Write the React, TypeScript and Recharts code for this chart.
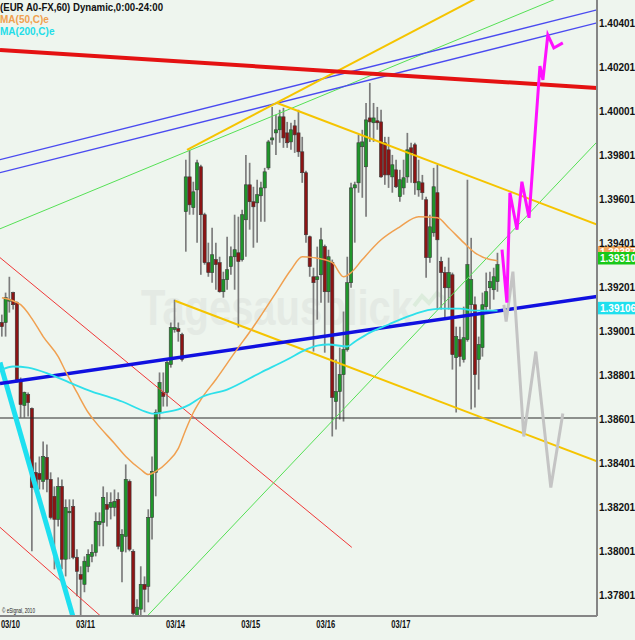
import { ComposedChart, Bar, Line, XAxis, YAxis, ReferenceLine } from "recharts";

const FONT = '"Liberation Sans", Arial, sans-serif';

// EUR A0-FX, 60 min candles (index 0 = first bar of 03/10)
const openPrices = [
  1.39044, 1.39044, 1.39143, 1.3918, 1.39134, 1.38785, 1.38667, 1.38717, 1.38653, 1.38363,
  1.38358, 1.38322, 1.38431, 1.38331, 1.38254, 1.38149, 1.38299, 1.37968, 1.38181, 1.38208,
  1.37977, 1.37899, 1.37854, 1.37936, 1.37981, 1.37999, 1.38126, 1.38136, 1.38217, 1.38204,
  1.38204, 1.3824, 1.38004, 1.38072, 1.38322, 1.38004, 1.37713, 1.37741, 1.37854, 1.37845,
  1.38158, 1.38363, 1.38635, 1.38726, 1.38726, 1.38853, 1.39012, 1.39016, 1.38989, 1.39548,
  1.39706, 1.39566, 1.39647, 1.39752, 1.39534, 1.39316, 1.39271, 1.3933, 1.39316, 1.39184,
  1.39239, 1.39298, 1.39343, 1.39361, 1.3933, 1.39511, 1.3967, 1.39593, 1.39588, 1.3962,
  1.39656, 1.39747, 1.39874, 1.39906, 1.3992, 1.39979, 1.39906, 1.39865, 1.39938, 1.39906,
  1.3982, 1.39725, 1.39434, 1.39252, 1.39239, 1.39261, 1.39389, 1.39184, 1.39316, 1.38685,
  1.3873, 1.38807, 1.38921, 1.39225, 1.39656, 1.39679, 1.39843, 1.39752, 1.39974, 1.39952,
  1.39961, 1.39956, 1.39861, 1.39829, 1.39706, 1.39738, 1.39616, 1.39656, 1.39706, 1.39838,
  1.39852, 1.39647, 1.39679, 1.39602, 1.39339, 1.39452, 1.39634, 1.39321, 1.39271, 1.39202,
  1.39261, 1.38885, 1.38966, 1.38876, 1.38966, 1.39125, 1.39125, 1.38876, 1.3893, 1.39116,
  1.39202, 1.39193, 1.3923,
];

const highPrices = [
  1.3908, 1.3918, 1.39252, 1.39184, 1.39139, 1.38794, 1.3873, 1.38726, 1.38658, 1.38408,
  1.38435, 1.38503, 1.3849, 1.38363, 1.38299, 1.3834, 1.38331, 1.3824, 1.3824, 1.3824,
  1.38013, 1.37936, 1.37981, 1.38013, 1.38036, 1.38181, 1.38181, 1.38299, 1.38272, 1.38272,
  1.38285, 1.38272, 1.38104, 1.38399, 1.38331, 1.38013, 1.37786, 1.37936, 1.3789, 1.38195,
  1.38435, 1.38649, 1.38817, 1.38817, 1.38876, 1.39044, 1.39148, 1.39044, 1.38998, 1.39784,
  1.39829, 1.39684, 1.39784, 1.39761, 1.39543, 1.39407, 1.39475, 1.39407, 1.39343, 1.39275,
  1.39434, 1.39389, 1.39534, 1.39525, 1.39557, 1.39806, 1.3977, 1.39661, 1.39693, 1.39684,
  1.39747, 1.39874, 1.40024, 1.39988, 1.40011, 1.4002, 1.39956, 1.39952, 1.39965, 1.40011,
  1.39888, 1.39734, 1.39439, 1.39293, 1.39389, 1.39475, 1.39398, 1.39375, 1.3933, 1.38876,
  1.3893, 1.39094, 1.39343, 1.39679, 1.39684, 1.39897, 1.3992, 1.40042, 1.40133, 1.40042,
  1.40024, 1.40011, 1.39888, 1.39888, 1.39806, 1.39784, 1.39738, 1.39784, 1.39906, 1.39861,
  1.39861, 1.39784, 1.39715, 1.39616, 1.39534, 1.39747, 1.39761, 1.39343, 1.39298, 1.39339,
  1.39271, 1.39025, 1.39025, 1.39116, 1.39693, 1.39429, 1.39162, 1.3898, 1.3918, 1.39271,
  1.39275, 1.39293, 1.39361,
];

const lowPrices = [
  1.3898, 1.3898, 1.39089, 1.39103, 1.38771, 1.38612, 1.38612, 1.38617, 1.38004, 1.38272,
  1.38285, 1.38285, 1.38272, 1.38149, 1.37922, 1.38117, 1.37922, 1.3789, 1.37968, 1.37968,
  1.378, 1.37713, 1.37818, 1.37909, 1.37954, 1.37981, 1.38027, 1.38027, 1.38117, 1.38149,
  1.38163, 1.38013, 1.37863, 1.37999, 1.38004, 1.37713, 1.37713, 1.37713, 1.37727, 1.37772,
  1.38058, 1.38254, 1.38603, 1.38662, 1.38662, 1.38839, 1.38998, 1.38957, 1.38867, 1.39366,
  1.39534, 1.39534, 1.39407, 1.39261, 1.39307, 1.39252, 1.39225, 1.39193, 1.3918, 1.39157,
  1.39193, 1.39261, 1.39193, 1.39021, 1.39321, 1.39343, 1.39466, 1.39384, 1.39407, 1.39502,
  1.39502, 1.39738, 1.39852, 1.39806, 1.39861, 1.39838, 1.39838, 1.39829, 1.39815, 1.39797,
  1.39679, 1.39407, 1.39252, 1.38912, 1.39057, 1.39134, 1.38907, 1.39134, 1.38526, 1.38558,
  1.38603, 1.38594, 1.38912, 1.39202, 1.39407, 1.39634, 1.39611, 1.39525, 1.39865, 1.39865,
  1.3992, 1.39702, 1.3967, 1.39656, 1.39634, 1.39656, 1.39593, 1.39625, 1.39679, 1.39679,
  1.39625, 1.39616, 1.39602, 1.39248, 1.39316, 1.39434, 1.39103, 1.39103, 1.39057, 1.39103,
  1.3883, 1.38635, 1.38844, 1.38862, 1.38957, 1.38649, 1.38658, 1.38739, 1.38889, 1.39094,
  1.39103, 1.39148, 1.39184,
];

const closePrices = [
  1.39025, 1.39157, 1.39148, 1.39125, 1.38776, 1.38671, 1.38726, 1.3868, 1.38294, 1.38285,
  1.38331, 1.38435, 1.38331, 1.38158, 1.38149, 1.38299, 1.37968, 1.38204, 1.38186, 1.37977,
  1.37913, 1.37877, 1.37959, 1.3799, 1.37999, 1.3814, 1.3814, 1.38249, 1.38195, 1.38226,
  1.38231, 1.38027, 1.38081, 1.38331, 1.38013, 1.37722, 1.3775, 1.37854, 1.37831, 1.38158,
  1.38367, 1.38635, 1.38771, 1.38708, 1.38862, 1.39021, 1.39021, 1.39003, 1.38876, 1.39706,
  1.39579, 1.39638, 1.3977, 1.39534, 1.39316, 1.39271, 1.39352, 1.39307, 1.39184, 1.39239,
  1.39284, 1.39343, 1.39375, 1.39321, 1.39534, 1.3967, 1.39593, 1.3957, 1.39625, 1.39656,
  1.39729, 1.39865, 1.39883, 1.3992, 1.39979, 1.39883, 1.39861, 1.3992, 1.39897, 1.3982,
  1.39725, 1.39443, 1.39298, 1.39225, 1.39252, 1.3942, 1.39184, 1.39343, 1.38703, 1.3873,
  1.38807, 1.38921, 1.39225, 1.39656, 1.3967, 1.39861, 1.39865, 1.39965, 1.39956, 1.39974,
  1.39952, 1.39706, 1.39715, 1.39715, 1.39761, 1.39661, 1.39693, 1.39702, 1.39829, 1.39815,
  1.39679, 1.39684, 1.39634, 1.39339, 1.39479, 1.39661, 1.3942, 1.39271, 1.39202, 1.39271,
  1.38898, 1.3898, 1.38889, 1.38975, 1.39307, 1.39239, 1.38807, 1.38944, 1.39125, 1.39184,
  1.3923, 1.39252, 1.39307,
];

// moving averages (sampled along the curves)
const ma50Idx = [0, 5, 8, 11, 15, 17, 20, 23, 25, 30, 33, 37, 39, 41, 44, 47, 49, 51, 53, 57, 62, 67, 73, 77, 80, 83, 88, 91, 93, 96, 101, 106, 111, 116, 119, 123, 126, 130, 132];
const ma50Val = [
  1.39157, 1.39125, 1.39062, 1.3898, 1.38889, 1.38821, 1.38726, 1.38635, 1.3859, 1.38494,
  1.38435, 1.38376, 1.38353, 1.38367, 1.38408, 1.38472, 1.38558, 1.38635, 1.38694, 1.38785,
  1.38907, 1.39025, 1.3918, 1.39284, 1.39343, 1.39339, 1.39316, 1.39252, 1.39271, 1.3933,
  1.3942, 1.39479, 1.39525, 1.3952, 1.39475, 1.39407, 1.39361, 1.3933, 1.39325,
];
const ma200Idx = [0, 3, 7, 13, 18, 24, 29, 32, 38, 40, 43, 47, 50, 53, 60, 69, 76, 81, 84, 87, 92, 94, 98, 103, 108, 112, 117, 122, 126, 132];
const ma200Val = [
  1.3883, 1.38844, 1.38839, 1.38807, 1.38771, 1.3873, 1.38703, 1.38685, 1.3864, 1.3863,
  1.38635, 1.38649, 1.38671, 1.38703, 1.38739, 1.38817, 1.38876, 1.38921, 1.38939, 1.38944,
  1.38935, 1.38957, 1.38998, 1.39035, 1.39071, 1.39094, 1.39107, 1.39107, 1.39098, 1.39098,
];

// hand-drawn scenarios
const bullIdx = [133.2, 134.5, 135.3, 137.2, 138.5, 140.4, 143.3, 144.1, 145.4, 147.0, 149.4];
const bullVal = [1.39375, 1.39134, 1.39634, 1.39466, 1.39684, 1.3952, 1.4021, 1.40147, 1.40351, 1.40292, 1.40315];
const bearIdx = [133.7, 134.3, 136.1, 139.0, 142.2, 146.2, 149.4];
const bearVal = [1.39125, 1.39048, 1.39275, 1.38526, 1.38912, 1.38294, 1.3863];

// trend lines: [bar index, price]
const trendLines = [
  { name: "level", from: [-0.5, 1.3861], to: [158.5, 1.3861] },
  { name: "redUpper", from: [-0.5, 1.39339], to: [93.2, 1.38022] },
  { name: "redLower", from: [-0.5, 1.38113], to: [30, 1.37654] },
  { name: "greenUpper", from: [-0.5, 1.3947], to: [158.5, 1.40592] },
  { name: "greenLower", from: [37, 1.37679], to: [158.5, 1.39865] },
  { name: "blueThinA", from: [-0.5, 1.39784], to: [158.5, 1.40465] },
  { name: "blueThinB", from: [-0.5, 1.39725], to: [158.5, 1.40406] },
  { name: "yellowUp", from: [49.3, 1.39829], to: [158.5, 1.40805] },
  { name: "yellowDown", from: [73.3, 1.40042], to: [158.5, 1.39489] },
  { name: "yellowDown2", from: [46.1, 1.39143], to: [158.5, 1.38413] },
  { name: "crash", from: [-0.5, 1.38862], to: [21, 1.37584] },
  { name: "support", from: [-0.5, 1.38767], to: [158.5, 1.39162] },
  { name: "resistance", from: [-0.5, 1.40283], to: [158.5, 1.4011] },
];

const trendStyles: Record<string, { stroke: string; width: number }> = {
  level: { stroke: "#2a2a2a", width: 1 },
  redUpper: { stroke: "#f03838", width: 1 },
  redLower: { stroke: "#f03838", width: 1 },
  greenUpper: { stroke: "#55e055", width: 1 },
  greenLower: { stroke: "#55e055", width: 1 },
  blueThinA: { stroke: "#4a4af0", width: 1.3 },
  blueThinB: { stroke: "#4a4af0", width: 1.3 },
  yellowUp: { stroke: "#f5c400", width: 2 },
  yellowDown: { stroke: "#f5c400", width: 2 },
  yellowDown2: { stroke: "#f5c400", width: 2 },
  crash: { stroke: "#1ee0f0", width: 5 },
  support: { stroke: "#1010e0", width: 3.5 },
  resistance: { stroke: "#e41212", width: 4 },
};

const dateTicks = [0, 20, 44, 64, 84, 104];
const dateLabels = ["03/10", "03/11", "03/14", "03/15", "03/16", "03/17"];
const priceTicks = [
  1.378014, 1.380014, 1.382014, 1.384014, 1.386014, 1.388014, 1.390014,
  1.392014, 1.394014, 1.396014, 1.398014, 1.400014, 1.402014, 1.404014,
];

const lastValues = [
  { text: "1.39387", value: 1.39387, fill: "#f0a458" },
  { text: "1.39310", value: 1.3931, fill: "#18c818" },
  { text: "1.391062", value: 1.391062, fill: "#20e0ee" },
];
const badgeShift = [-1, -12, -7];

const candles = openPrices.map((open, i) => ({
  i,
  open,
  high: highPrices[i],
  low: lowPrices[i],
  close: closePrices[i],
}));

const toSeries = (idx: number[], val: number[]) => idx.map((i, k) => ({ i, v: val[k] }));

function Candle(props: any) {
  const { x, y, width, height, payload } = props;
  if (x == null || y == null || !payload) return null;
  const top = Math.min(y, y + height);
  const bottom = Math.max(y, y + height);
  const span = payload.high - payload.low || 1e-9;
  const toPx = (v: number) => top + ((payload.high - v) / span) * (bottom - top);
  const cx = x + width / 2;
  const up = payload.close > payload.open;
  const doji = Math.abs(payload.close - payload.open) < 0.00004;
  const bTop = toPx(Math.max(payload.open, payload.close));
  const bBot = toPx(Math.min(payload.open, payload.close));
  return (
    <g>
      <line x1={cx} x2={cx} y1={top} y2={bottom} stroke="#7c7c7c" strokeWidth={1.7} />
      <rect
        x={cx - 1.6}
        y={bTop}
        width={3.2}
        height={Math.max(bBot - bTop, 1.5)}
        fill={doji ? "#333" : up ? "#1f962a" : "#8c1414"}
        stroke="#3a3a3a"
        strokeWidth={0.6}
      />
    </g>
  );
}

function DateTick(props: any) {
  const { x, y, payload } = props;
  const k = dateTicks.indexOf(payload.value);
  return (
    <text x={x - 1} y={y + 10} fontSize={10} fontWeight="bold" fontFamily={FONT} fill="#111"
      textLength={19} lengthAdjust="spacingAndGlyphs">
      {dateLabels[k]}
    </text>
  );
}

function PriceTick(props: any) {
  const { x, y, payload } = props;
  return (
    <text x={x} y={y + 3.5} fontSize={10} fontWeight="bold" fontFamily={FONT} fill="#111">
      {payload.value.toFixed(6)}
    </text>
  );
}

function badge(k: number) {
  return (p: any) => {
    const vb = p.viewBox || {};
    const bx = (vb.x ?? 0) + (vb.width ?? 0) + 1;
    const by = (vb.y ?? 0) + badgeShift[k];
    const item = lastValues[k];
    return (
      <g>
        <rect x={bx} y={by} width={40} height={12.5} fill={item.fill} />
        <text x={bx + 2} y={by + 10} fontSize={10} fontWeight="bold" fontFamily={FONT} fill="#fff">
          {item.text}
        </text>
      </g>
    );
  };
}

const lineProps = { dataKey: "v", dot: false, activeDot: false, isAnimationActive: false, legendType: "none" as const };

export default function App() {
  return (
    <div style={{ position: "absolute", left: 0, top: 0, width: 635, height: 640, background: "#eef5ee", overflow: "hidden" }}>
      <svg width={635} height={640} style={{ position: "absolute", left: 0, top: 0 }}>
        <text x={141} y={325} fontSize={50} fontWeight="bold" fontFamily={FONT} fill="#e4eae4"
          textLength={272} lengthAdjust="spacingAndGlyphs">
          Tagesausblick
        </text>
        <polyline points="414,306 422,296 429,303 437,293 445,299" fill="none" stroke="#dcecdc" strokeWidth={4} />
      </svg>

      <div style={{ position: "absolute", left: 0, top: 0 }}>
        <ComposedChart width={635} height={640} data={candles} margin={{ top: 0, right: 0, bottom: 0, left: 0 }}>
          <XAxis
            dataKey="i"
            type="number"
            domain={[-0.5, 158.5]}
            ticks={dateTicks}
            interval={0}
            tick={<DateTick />}
            tickLine={false}
            tickSize={0}
            tickMargin={2}
            axisLine={{ stroke: "#858585", strokeWidth: 2 }}
            height={24}
            allowDataOverflow
          />
          <YAxis
            orientation="right"
            type="number"
            domain={[1.3771, 1.4051]}
            ticks={priceTicks}
            interval={0}
            tick={<PriceTick />}
            tickLine={false}
            tickSize={0}
            tickMargin={2}
            axisLine={{ stroke: "#858585", strokeWidth: 2 }}
            width={38}
            allowDataOverflow
          />

          <Bar dataKey={(d: any) => [d.low, d.high]} barSize={3} shape={<Candle />} isAnimationActive={false} />

          {trendLines.map((t) => (
            <ReferenceLine
              key={t.name}
              segment={[{ x: t.from[0], y: t.from[1] }, { x: t.to[0], y: t.to[1] }]}
              stroke={trendStyles[t.name].stroke}
              strokeWidth={trendStyles[t.name].width}
              ifOverflow="hidden"
            />
          ))}

          <Line {...lineProps} data={toSeries(ma50Idx, ma50Val)} type="monotone" stroke="#f0a050" strokeWidth={1.5} />
          <Line {...lineProps} data={toSeries(ma200Idx, ma200Val)} type="monotone" stroke="#2ee0ea" strokeWidth={1.8} />
          <Line {...lineProps} data={toSeries(bearIdx, bearVal)} type="linear" stroke="#c4c4c4" strokeWidth={3} />
          <Line {...lineProps} data={toSeries(bullIdx, bullVal)} type="linear" stroke="#ff10ff" strokeWidth={3} />

          {lastValues.map((lv, k) => (
            <ReferenceLine key={lv.text} y={lv.value} stroke="none" label={badge(k)} />
          ))}
        </ComposedChart>
      </div>

      <svg width={635} height={640} style={{ position: "absolute", left: 0, top: 0, pointerEvents: "none" }}>
        <text x={0} y={11} fontSize={10} fontWeight="bold" fontFamily={FONT} fill="#111" textLength={163} lengthAdjust="spacingAndGlyphs">
          (EUR A0-FX,60) Dynamic,0:00-24:00
        </text>
        <text x={0} y={23} fontSize={10} fontWeight="bold" fontFamily={FONT} fill="#f0a050">
          MA(50,C)e
        </text>
        <text x={0} y={35} fontSize={10} fontWeight="bold" fontFamily={FONT} fill="#22dde8">
          MA(200,C)e
        </text>
        <text x={2} y={613} fontSize={6.5} fontFamily={FONT} fill="#222" textLength={33} lengthAdjust="spacingAndGlyphs">
          © eSignal, 2010
        </text>
      </svg>
    </div>
  );
}
